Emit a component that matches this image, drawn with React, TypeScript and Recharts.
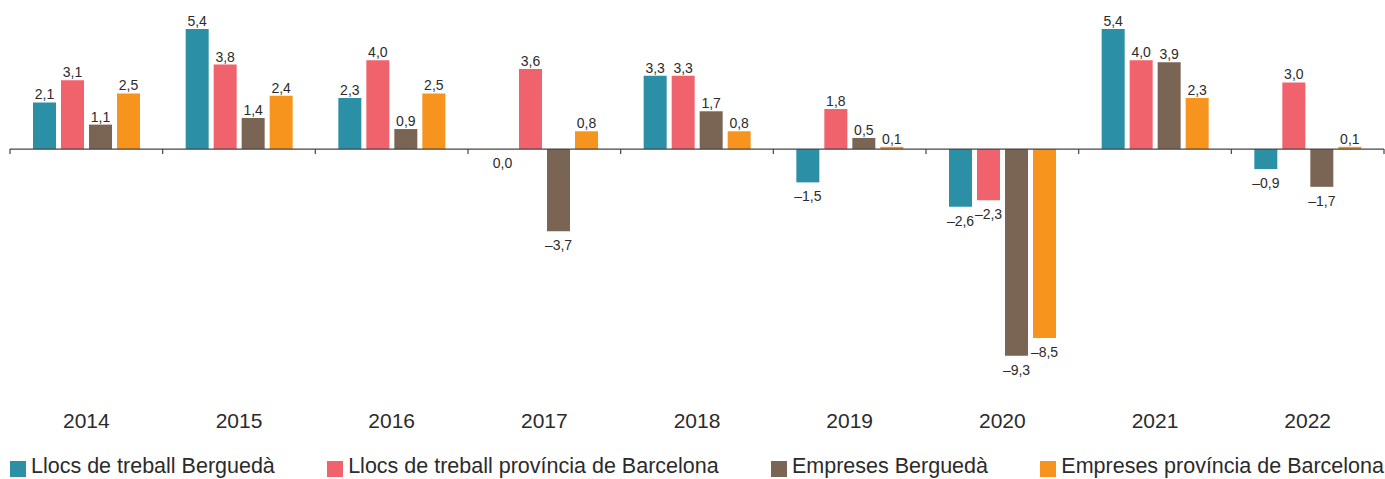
import React from 'react';
import { BarChart, Bar, XAxis, YAxis, ReferenceLine, LabelList } from 'recharts';

// values, % change per year
const years = ['2014', '2015', '2016', '2017', '2018', '2019', '2020', '2021', '2022'];
const llocsBergueda = [2.1, 5.4, 2.3, 0.0, 3.3, -1.5, -2.6, 5.4, -0.9];
const llocsBarcelona = [3.1, 3.8, 4.0, 3.6, 3.3, 1.8, -2.3, 4.0, 3.0];
const empresesBergueda = [1.1, 1.4, 0.9, -3.7, 1.7, 0.5, -9.3, 3.9, -1.7];
const empresesBarcelona = [2.5, 2.4, 2.5, 0.8, 0.8, 0.1, -8.5, 2.3, 0.1];

const series = [
  { key: 'llocsBergueda', name: 'Llocs de treball Berguedà', color: '#2b8fa6' },
  { key: 'llocsBarcelona', name: 'Llocs de treball província de Barcelona', color: '#f0626c' },
  { key: 'empresesBergueda', name: 'Empreses Berguedà', color: '#7a6555' },
  { key: 'empresesBarcelona', name: 'Empreses província de Barcelona', color: '#f7941e' },
];

const data = years.map((year, i) => ({
  year,
  llocsBergueda: llocsBergueda[i],
  llocsBarcelona: llocsBarcelona[i],
  empresesBergueda: empresesBergueda[i],
  empresesBarcelona: empresesBarcelona[i],
}));

const FONT = '"Liberation Sans", Arial, Helvetica, sans-serif';
const TEXT = '#2b2b2b';

const fmt = (v: number) => (v < 0 ? '–' : '') + Math.abs(v).toFixed(1).replace('.', ',');

const ValueLabel = (props: any) => {
  const { x, y, width, height, value } = props;
  const top = Math.min(y, y + height);
  const bottom = Math.max(y, y + height);
  const cx = x + width / 2;
  return (
    <text
      x={cx}
      y={value > 0 ? top - 3 : bottom + 19}
      textAnchor="middle"
      fontSize={14}
      fontFamily={FONT}
      fill={TEXT}
    >
      {fmt(value)}
    </text>
  );
};

// zero line with small ticks between the years
const ZeroAxis = (props: any) => {
  const { x1, y1, x2 } = props;
  const step = (x2 - x1) / years.length;
  const ticks = years.map((_, i) => x1 + i * step).concat([x2]);
  return (
    <g>
      <line x1={x1} y1={y1} x2={x2} y2={y1} stroke="#444" strokeWidth={1.2} />
      {ticks.map((tx, i) => (
        <line key={i} x1={tx} x2={tx} y1={y1} y2={y1 + 5} stroke="#444" strokeWidth={1.2} />
      ))}
    </g>
  );
};

const YearTick = (props: any) => {
  const { x, y, payload } = props;
  return (
    <text x={x} y={y + 57} textAnchor="middle" fontSize={21} fontFamily={FONT} fill={TEXT}>
      {payload.value}
    </text>
  );
};

// a zero value still needs a (hidden) rectangle so its label is drawn
const zeroMin = (value: any) => (value === 0 ? 0.01 : 0);

export default function App() {
  return (
    <div style={{ position: 'absolute', left: 0, top: 0, width: 1385, height: 479, background: '#fff', overflow: 'hidden' }}>
      <BarChart
        width={1385}
        height={479}
        data={data}
        margin={{ top: 15.7, right: 1, left: 10, bottom: 67.7 }}
        barSize={23}
        barGap={5}
      >
        <XAxis
          dataKey="year"
          axisLine={false}
          tickLine={false}
          tickSize={0}
          tickMargin={0}
          height={40}
          interval={0}
          tick={<YearTick />}
        />
        <YAxis hide domain={[-10, 6]} />
        {series.map(s => (
          <Bar
            key={s.key}
            dataKey={s.key}
            name={s.name}
            fill={s.color}
            minPointSize={zeroMin}
            isAnimationActive={false}
          >
            <LabelList dataKey={s.key} content={<ValueLabel />} />
          </Bar>
        ))}
        <ReferenceLine y={0} shape={<ZeroAxis />} />
      </BarChart>
      <div
        style={{
          position: 'absolute',
          left: 10,
          width: 1374,
          top: 454,
          display: 'flex',
          justifyContent: 'space-between',
          fontFamily: FONT,
          fontSize: 21.5,
          color: TEXT,
          lineHeight: '24px',
          whiteSpace: 'nowrap',
        }}
      >
        {series.map(s => (
          <div key={s.key} style={{ display: 'flex', alignItems: 'center' }}>
            <span style={{ width: 16, height: 16, background: s.color, marginRight: 5, marginTop: 5 }} />
            <span>{s.name}</span>
          </div>
        ))}
      </div>
    </div>
  );
}
